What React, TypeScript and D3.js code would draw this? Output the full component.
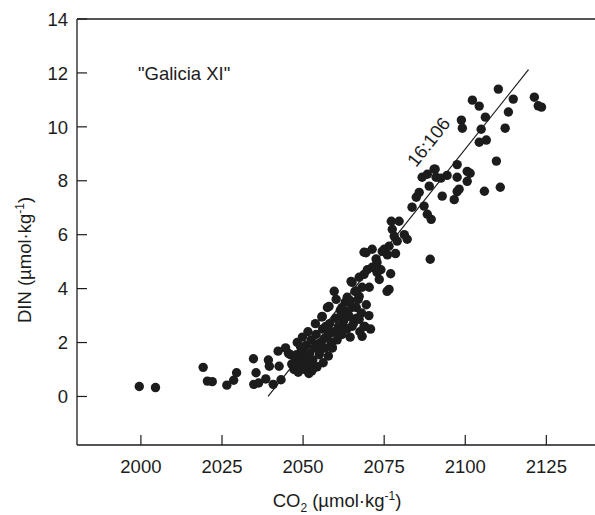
import React from "react";
import * as d3 from "d3";

const W = 595;
const H = 515;

const xTicks = [2000, 2025, 2050, 2075, 2100, 2125];
const yTicks = [0, 2, 4, 6, 8, 10, 12, 14];
const xDomain = [1980.3, 2140];
const yDomain = [-1.8, 14];

const chartLabel = '"Galicia XI"';
const ratioLabel = "16:106";
const ratioN = 16;
const ratioC = 106;
const ratioStart = 2039.2;
const ratioEnd = 2119.5;

// CO2 values (µmol/kg)
const co2 = [
  1999.5, 2004.5, 2019.2, 2020.5, 2022, 2026.5, 2028.6, 2029.5, 2034.7, 2035.5,
  2034.8, 2036.3, 2038.5, 2039.3, 2039.6, 2040.8, 2042.3, 2042.6, 2043.2, 2044.6,
  2046.1, 2047.2,
  2047.5, 2048, 2048.5, 2049, 2049.5, 2050, 2050.5, 2051, 2051.3, 2052,
  2052.5, 2052.7, 2053, 2053.5, 2054, 2054.3, 2055, 2055.5, 2056, 2056.2,
  2056.8, 2057.3, 2057.8, 2058.2, 2058.7, 2059, 2059.5, 2060, 2060.5, 2061,
  2061.5, 2062, 2062.5, 2063, 2063.5, 2064, 2064.5, 2065, 2065.5, 2066,
  2066.5, 2067, 2067.5, 2068, 2068.2, 2069, 2069.5, 2070.3, 2070.8, 2049.8,
  2051.5, 2046.5, 2045.5, 2048.2, 2053.8, 2055.8, 2057.5, 2059.6, 2058, 2060.2,
  2062, 2063.6, 2066.4, 2067.3, 2068.2, 2066.4, 2070.4, 2064.8, 2067.3, 2068.8,
  2071.3, 2072.8, 2073.5, 2075.9, 2065.1, 2069.4, 2074.4, 2064.2, 2067.3, 2065.1,
  2068.8, 2061, 2057, 2055.9, 2059,
  2050.8, 2052.2, 2054.6, 2056.5, 2058.5, 2049.2, 2051.8, 2053.2, 2055.2, 2057.6,
  2060.8, 2062.8, 2064.6, 2063.2, 2061.8,
  2071.3, 2075, 2076.5, 2077.2, 2079.6, 2077.5, 2078.1, 2081.2, 2082.1, 2079,
  2072.5, 2076, 2078.5, 2074, 2077, 2068.8, 2072.8, 2069.8, 2076.5,
  2083.6, 2087.3, 2088.3, 2089.5, 2084.9, 2085.8, 2088.9, 2086.7, 2088.3, 2090.4,
  2091, 2092.9, 2096.6, 2097.5, 2097.5, 2100.6, 2100.6, 2097.5, 2094.4, 2098.1,
  2101.5, 2089.2, 2090.7, 2092.5,
  2098.8, 2099.1, 2102.2, 2104.3, 2106.2, 2104.9, 2106.5, 2104.3, 2109.6, 2110.8,
  2105.9, 2112.3, 2113.3, 2114.8, 2110.2, 2121.3, 2123.5, 2122.5,
];

// DIN values (µmol/kg)
const din = [
  0.37, 0.33, 1.08, 0.57, 0.55, 0.42, 0.6, 0.88, 1.4, 0.88,
  0.45, 0.5, 0.65, 1.35, 1.12, 0.45, 1.68, 1.12, 0.62, 1.8,
  1.55, 1.0,
  1.3, 1.55, 0.9, 1.15, 1.7, 1.4, 1.0, 1.9, 1.2, 1.6,
  2.1, 0.95, 1.35, 1.8, 2.3, 1.1, 1.55, 2.0, 2.5, 1.25,
  1.8, 2.2, 1.5, 2.7, 2.0, 1.8, 2.4, 2.9, 2.1, 2.6,
  3.2, 2.3, 2.8, 3.5, 2.5, 3.0, 2.2, 3.3, 2.7, 3.9,
  2.9, 3.6, 2.4, 3.1, 2.23, 2.6, 3.4, 3.0, 2.5, 2.2,
  2.4, 1.2, 1.6, 2.0, 2.7, 2.95, 3.3, 3.9, 3.34, 3.6,
  3.3, 3.68, 3.3, 3.71, 4.05, 3.9, 4.05, 4.27, 4.42, 4.53,
  4.79, 4.97, 4.34, 3.9, 4.23, 5.33, 5.38, 2.97, 2.86, 2.6,
  2.6, 2.6, 2.6, 2.97, 1.81,
  1.5, 1.3, 1.95, 2.15, 2.35, 1.85, 0.85, 1.05, 1.7, 2.45,
  2.35, 2.55, 3.55, 3.15, 3.0,
  5.46, 5.46, 5.57, 6.5, 6.5, 6.2, 5.94, 6.0, 5.83, 5.76,
  5.1, 5.25, 5.3, 4.7, 4.55, 5.35, 4.6, 4.7, 3.97,
  7.02, 7.06, 6.76, 6.57, 7.39, 7.57, 7.8, 8.13, 8.24, 8.43,
  8.13, 7.43, 7.3, 7.6, 8.13, 7.98, 8.35, 8.6, 8.2, 7.69,
  8.28, 5.09, 8.43, 8.1,
  10.25, 9.95, 10.99, 10.77, 10.36, 9.91, 9.51, 9.43, 8.73, 7.76,
  7.61, 9.95, 10.55, 11.03, 11.4, 11.1, 10.73, 10.78,
];

const FONT = "'Liberation Sans', Arial, Helvetica, sans-serif";
const INK = "#1c1c1c";
const FS = 18.5;

export default function App() {
  const x = d3.scaleLinear().domain(xDomain).range([77, 595]);
  const y = d3.scaleLinear().domain(yDomain).range([445, 19]);

  const left = x(xDomain[0]);
  const right = x(xDomain[1]);
  const top = y(yDomain[1]);
  const bottom = y(yDomain[0]);

  const pts = co2.map((c, i) => [c, din[i]] as [number, number]);

  const ratioLine = d3
    .line<number>()
    .x((c) => x(c))
    .y((c) => y((ratioN / ratioC) * (c - ratioStart)));

  const angle =
    (Math.atan2(
      -(y((ratioN / ratioC) * (ratioEnd - ratioStart)) - y(0)),
      x(ratioEnd) - x(ratioStart)
    ) *
      180) /
    Math.PI;

  return (
    <svg
      width={W}
      height={H}
      style={{ position: "absolute", left: 0, top: 0, background: "#fff" }}
      fontFamily={FONT}
    >
      <rect x={0} y={0} width={W} height={H} fill="#fff" />
      {/* axes frame */}
      <line x1={left} y1={top} x2={right} y2={top} stroke={INK} strokeWidth={1.3} />
      <line x1={left} y1={bottom} x2={right} y2={bottom} stroke={INK} strokeWidth={1.3} />
      <line x1={left} y1={top} x2={left} y2={bottom} stroke={INK} strokeWidth={1.3} />

      {/* y ticks */}
      {yTicks.map((t) => (
        <g key={"y" + t}>
          <line x1={left} x2={left + 10} y1={y(t)} y2={y(t)} stroke={INK} strokeWidth={1.2} />
          <text
            x={left - 9}
            y={y(t)}
            dy="0.36em"
            textAnchor="end"
            fontSize={FS}
            fill={INK}
          >
            {t}
          </text>
        </g>
      ))}

      {/* x ticks */}
      {xTicks.map((t) => (
        <g key={"x" + t}>
          <line x1={x(t)} x2={x(t)} y1={bottom} y2={bottom - 10} stroke={INK} strokeWidth={1.2} />
          <text x={x(t)} y={bottom + 28} textAnchor="middle" fontSize={FS} fill={INK}>
            {t}
          </text>
        </g>
      ))}

      {/* axis titles */}
      <text x={337} y={507} textAnchor="middle" fontSize={FS} fill={INK}>
        CO<tspan fontSize={12} dy={5}>2</tspan>
        <tspan dy={-5}> (µmol·kg</tspan>
        <tspan fontSize={12} dy={-7}>-1</tspan>
        <tspan dy={7}>)</tspan>
      </text>
      <text
        transform={`translate(31, ${260}) rotate(-90)`}
        textAnchor="middle"
        fontSize={FS}
        fill={INK}
      >
        DIN (µmol·kg<tspan fontSize={12} dy={-7}>-1</tspan>
        <tspan dy={7}>)</tspan>
      </text>

      {/* station label */}
      <text x={138} y={80} fontSize={FS} fill={INK}>
        {chartLabel}
      </text>

      {/* data points */}
      {pts.map((p, i) => (
        <circle key={i} cx={x(p[0])} cy={y(p[1])} r={4.7} fill={INK} />
      ))}

      {/* Redfield ratio line */}
      <path
        d={ratioLine([ratioStart, ratioEnd]) || ""}
        fill="none"
        stroke={INK}
        strokeWidth={1.2}
      />
      <text
        transform={`translate(416, 168) rotate(${-angle})`}
        fontSize={FS}
        fill={INK}
      >
        {ratioLabel}
      </text>
    </svg>
  );
}
